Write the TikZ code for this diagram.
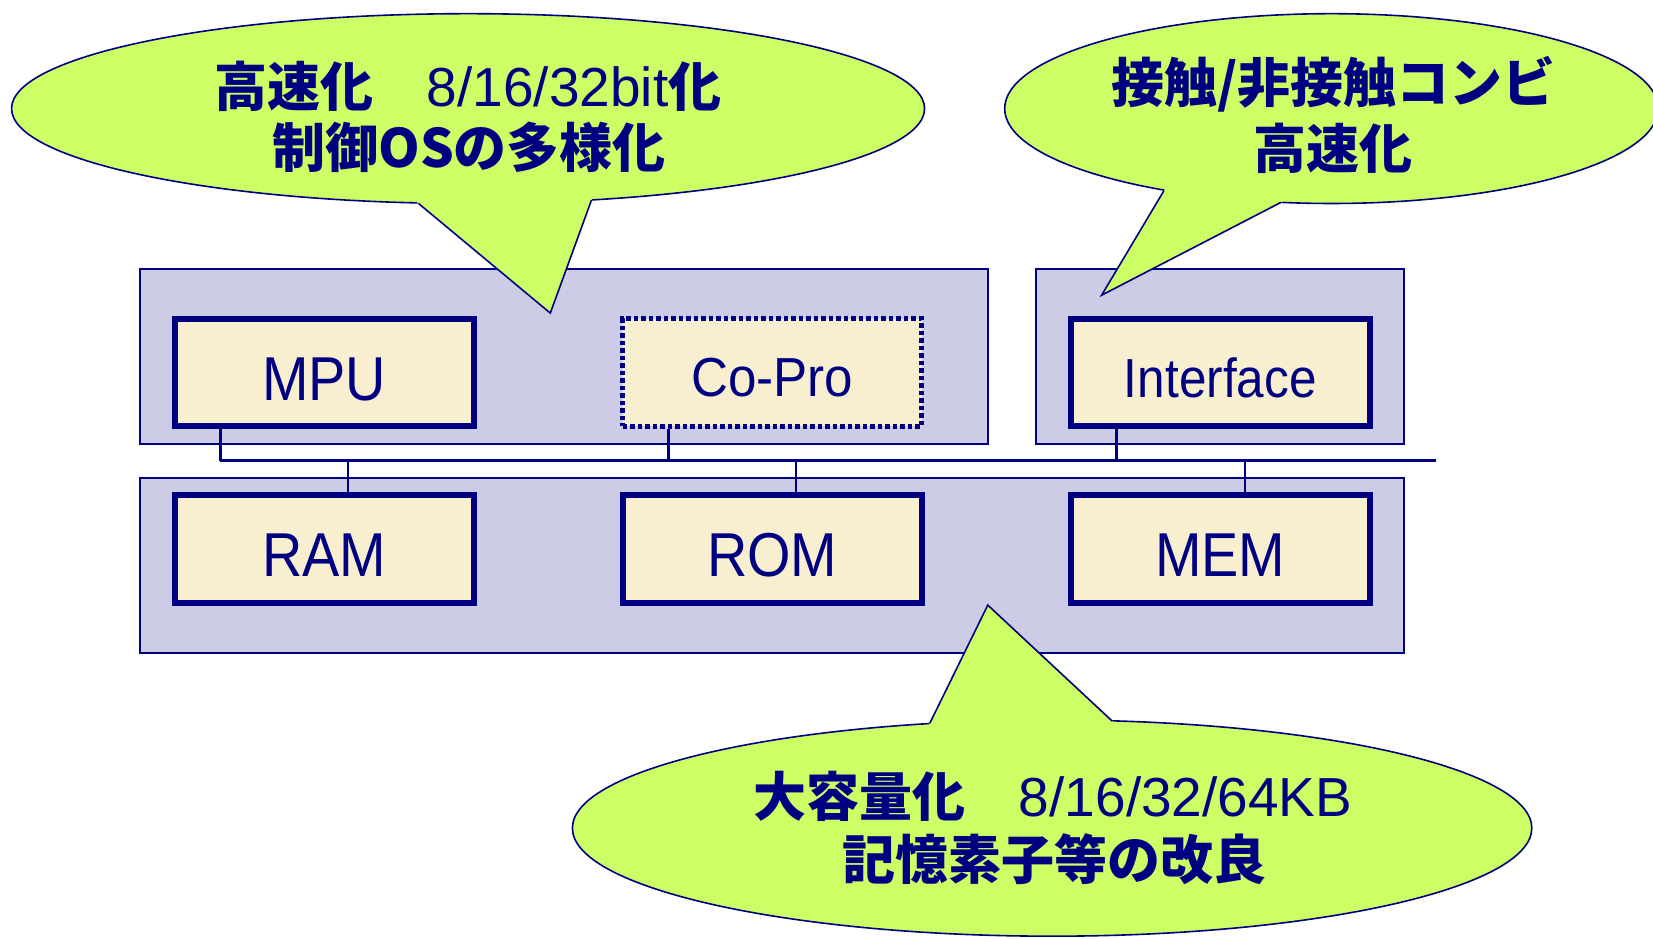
\documentclass[tikz,border=0pt]{standalone}
\usepackage{fontspec}
\setmainfont{Liberation Sans}
\newfontfamily\cjk{Noto Sans CJK JP}
\usetikzlibrary{calc}
\definecolor{navy}{RGB}{0,0,128}
\definecolor{grpfill}{RGB}{204,204,230}
\definecolor{boxfill}{RGB}{248,238,208}
\definecolor{callfill}{RGB}{204,255,102}
\tikzset{
  grp/.style={draw=navy,line width=2pt,fill=grpfill,minimum width=#1,minimum height=175pt,inner sep=0pt},
  comp/.style={draw=navy,line width=6pt,fill=boxfill,minimum width=299pt,minimum height=107.6pt,inner sep=0pt},
  dotcomp/.style={comp,dash pattern=on 4.5pt off 3pt,line width=5pt},
  biglbl/.style={text=navy,inner sep=0pt,font=\fontsize{62}{62}\selectfont},
  midlbl/.style={text=navy,inner sep=0pt,font=\fontsize{55}{55}\selectfont},
  calltxt/.style={text=navy,inner sep=0pt,font=\cjk\bfseries\fontsize{53}{53}\selectfont},
  callshape/.style={fill=callfill,draw=navy,line width=1.6pt},
  callline/.style={draw=navy,line width=1.6pt,line join=miter},
  busline/.style={draw=navy,line width=3.3pt},
  conn/.style={draw=navy,line width=2.7pt},
}
\newcommand{\lat}[1]{{\normalfont\fontsize{55}{55}\selectfont #1}}
\begin{document}
\begin{tikzpicture}[x=1.0542pt,y=-1.0542pt]
\useasboundingbox (0,0) rectangle (1568,890);
\clip (0,0) rectangle (1568,890);
% group boxes
\node[grp=847.6pt] (g1) at (535,338) {};
\node[grp=367.9pt] (g2) at (1157.5,338) {};
\node[grp=1264pt] (g3) at (732.5,536) {};
% bus coordinates
\coordinate (busL) at (209,437);
\coordinate (busR) at (1362,437);
\coordinate (pCop) at (634,437);
\coordinate (pInt) at (1059,437);
\coordinate (pRam) at (330,437);
\coordinate (pRom) at (755,437);
\coordinate (pMem) at (1181,437);
% components
\node[comp] (mpu) at (307.5,353.5) {};
\node[dotcomp] (cop) at (732.5,353.5) {};
\node[comp] (intf) at (1157.5,353.5) {};
\node[comp] (ram) at (307.5,520.5) {};
\node[comp] (rom) at (732.5,520.5) {};
\node[comp] (mem) at (1157.5,520.5) {};
% connectors
\draw[busline] (busL) -- (busR);
\draw[conn] (mpu.south -| busL) -- (busL);
\draw[conn] (cop.south -| pCop) -- (pCop);
\draw[conn] (intf.south -| pInt) -- (pInt);
\draw[conn] (pRam) -- (ram.north -| pRam);
\draw[conn] (pRom) -- (rom.north -| pRom);
\draw[conn] (pMem) -- (mem.north -| pMem);
% labels
\node[biglbl] (tmpu) at ($(mpu)+(0,6)$) {\scalebox{0.9}[1]{MPU}};
\node[midlbl] (tcop) at ($(cop)+(0,5)$) {\scalebox{0.93}[1]{Co-Pro}};
\node[midlbl] (tint) at ($(intf)+(0,5)$) {\scalebox{0.9}[1]{Interface}};
\node[biglbl] (tram) at ($(ram)+(0,6)$) {\scalebox{0.9}[1]{RAM}};
\node[biglbl] (trom) at ($(rom)+(0,6)$) {\scalebox{0.9}[1]{ROM}};
\node[biglbl] (tmem) at ($(mem)+(0,6)$) {\scalebox{0.9}[1]{MEM}};
% callout 1
\coordinate (e1) at (444,103);
\coordinate (t1) at (522,297);
\coordinate (a1) at (397,193);
\coordinate (b1) at (561,190);
\path[callshape] (e1) ellipse [x radius=456.5pt, y radius=94.9pt];
\fill[callfill] (t1) -- ($(t1)!1.12!(a1)$) -- ($(t1)!1.12!(b1)$) -- cycle;
\draw[callline] (a1) -- (t1) -- (b1);
\node[calltxt] (c1a) at (444,82) {高速化　\lat{8/16/32bit}化};
\node[calltxt] (c1b) at (445,140) {制御OSの多様化};
% callout 2
\coordinate (e2) at (1263,103);
\coordinate (t2) at (1045,280);
\coordinate (a2) at (1104,181);
\coordinate (b2) at (1215,192);
\path[callshape] (e2) ellipse [x radius=326.8pt, y radius=94.9pt];
\fill[callfill] (t2) -- ($(t2)!1.12!(a2)$) -- ($(t2)!1.12!(b2)$) -- cycle;
\draw[callline] (a2) -- (t2) -- (b2);
\node[calltxt] (c2a) at (1265,80) {接触/非接触コンビ};
\node[calltxt] (c2b) at (1264,141) {高速化};
% callout 3
\coordinate (e3) at (998,785.5);
\coordinate (t3) at (937,574);
\coordinate (a3) at (882,686);
\coordinate (b3) at (1055,684);
\path[callshape] (e3) ellipse [x radius=479.7pt, y radius=108.1pt];
\fill[callfill] (t3) -- ($(t3)!1.12!(a3)$) -- ($(t3)!1.12!(b3)$) -- cycle;
\draw[callline] (a3) -- (t3) -- (b3);
\node[calltxt] (c3a) at (999,755) {大容量化　\lat{8/16/32/64KB}};
\node[calltxt] (c3b) at (1000,815) {記憶素子等の改良};
\end{tikzpicture}
\end{document}
